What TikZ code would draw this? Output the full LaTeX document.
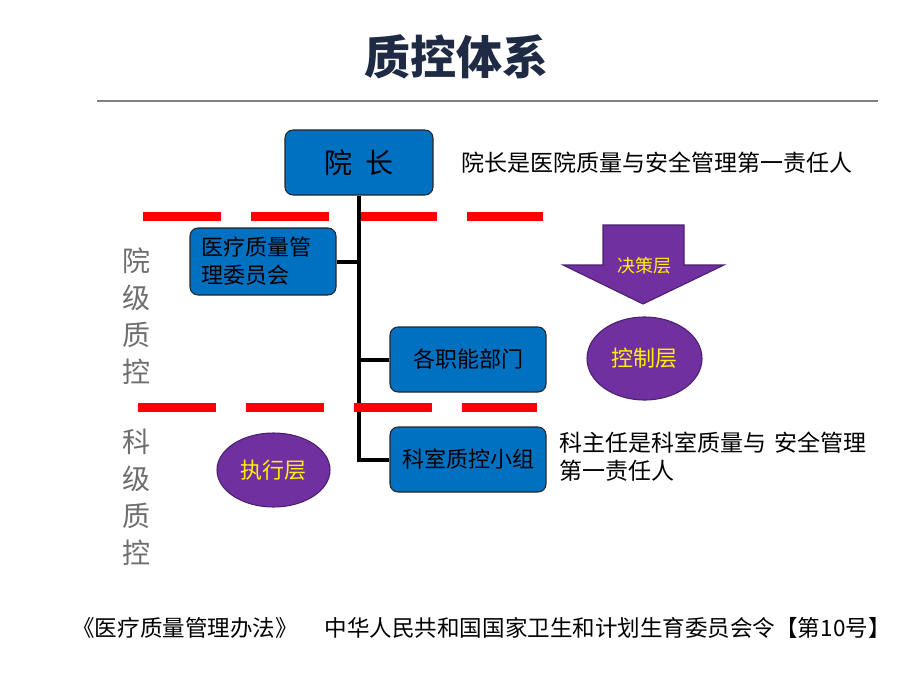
\documentclass[tikz,border=0pt]{standalone}
\usepackage{fontspec}
\setmainfont{Noto Sans CJK SC}
\usetikzlibrary{positioning,shapes.geometric}
\definecolor{boxblue}{HTML}{0070C0}
\definecolor{layerpurple}{HTML}{7030A0}
\definecolor{layeredge}{HTML}{4B1F6E}
\definecolor{titlenavy}{HTML}{1F2A44}
\definecolor{sidegray}{HTML}{6E6E6E}
\newcommand{\pxfont}[2]{\fontsize{#1}{#2}\selectfont}

\begin{document}
\begin{tikzpicture}[x=0.75pt,y=-0.75pt,
  box/.style={draw=black!85,line width=0.8pt,fill=boxblue,rounded corners=6pt,
    minimum height=48.75pt,font=\pxfont{16.5}{21}},
  layer/.style={ellipse,draw=layeredge,line width=0.8pt,fill=layerpurple,text=yellow,
    inner sep=0pt,font=\pxfont{16.5}{20}},
  redline/.style={red,line width=6.75pt,dash pattern=on 58.5pt off 22.5pt},
  trunk/.style={line width=3pt},
  note/.style={anchor=west,inner sep=0pt,align=left,font=\pxfont{17.25}{21}}]
\useasboundingbox[fill=white] (0,0) rectangle (920,692);

% heading
\node[font=\pxfont{34.5}{40}\bfseries,text=titlenavy] (title) at (456,57) {质控体系};
\coordinate (ruleL) at (97,101);
\coordinate (ruleR) at (878,101);
\draw[gray,line width=1.5pt] (ruleL) -- (ruleR);

% boxes
\node[box,minimum width=111pt,font=\pxfont{21}{25}] (yz) at (359,162.5) {院\hspace{10pt}长};
\node[box,minimum width=109.5pt,minimum height=50.25pt,text width=93pt,align=left,inner xsep=8pt]
  (yl) at (263,261.5) {医疗质量管\\理委员会};
\node[box,minimum width=117pt] (zn) at (468,359.5) {各职能部门};
\node[box,minimum width=117pt] (ks) at (468,459.5) {科室质控小组};

% level separators
\coordinate (sepA) at (143,216);
\coordinate (sepB) at (543,216);
\coordinate (sepC) at (138,407);
\coordinate (sepD) at (537,407);
\draw[redline] (sepA) -- (sepB);

% tree lines
\coordinate (bend) at (yz.south |- ks.west);
\draw[trunk] (yz.south) -- (bend) -- (ks.west);
\draw[trunk] (yl.east) -- (yl.east -| yz.south);
\draw[trunk] (zn.west -| yz.south) -- (zn.west);
\draw[redline] (sepC) -- (sepD);

% side labels
\node[text=sidegray,align=center,font=\pxfont{21}{27.75}] (yj) at (136,316) {院\\级\\质\\控};
\node[text=sidegray,align=center,font=\pxfont{21}{27.75}] (kj) at (136,497) {科\\级\\质\\控};

% layers
\fill[layerpurple,draw=layeredge,line width=0.8pt]
  (603,225) -- (684,225) -- (684,265) -- (724,265) -- (643,304) -- (563,265) -- (603,265) -- cycle;
\node[text=yellow,font=\pxfont{13.5}{16}] (jc) at (644,266) {决策层};
\node[layer,minimum width=86.25pt,minimum height=62.25pt] (kz) at (644.5,358.5) {控制层};
\node[layer,minimum width=84.75pt,minimum height=55.5pt] (zx) at (273.5,470) {执行层};

% notes
\node[note] (yznote) at (461,163) {院长是医院质量与安全管理第一责任人};
\node[note] (ksnote) at (559,457) {科主任是科室质量与\hspace{6pt}安全管理\\第一责任人};

% source
\node[font=\pxfont{16.9}{20}] (src) at (481.5,628)
  {《医疗质量管理办法》\hspace{1.2em}中华人民共和国国家卫生和计划生育委员会令【第10号】};
\end{tikzpicture}
\end{document}
